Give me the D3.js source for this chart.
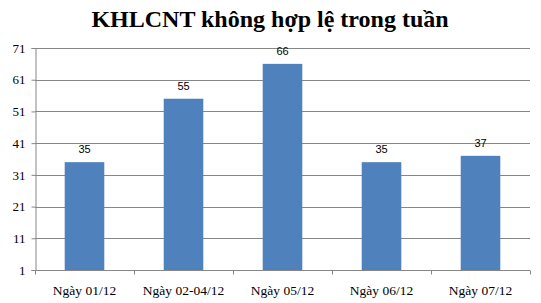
<!DOCTYPE html>
<html>
<head>
<meta charset="utf-8">
<script src="https://cdn.jsdelivr.net/npm/d3@7"></script>
<style>
  body { margin: 0; background: #fff; }
  svg { display: block; }
</style>
</head>
<body>
<script>
var title = 'KHLCNT không hợp lệ trong tuần'
var categories = ['Ngày 01/12', 'Ngày 02-04/12', 'Ngày 05/12', 'Ngày 06/12', 'Ngày 07/12']
var values = [35, 55, 66, 35, 37]
var yTicks = [1, 11, 21, 31, 41, 51, 61, 71]

var width = 541, height = 303
var margin = {top: 48, right: 11, bottom: 33, left: 35}

var svg = d3.select('body').append('svg')
  .attr('width', width)
  .attr('height', height);

var x = d3.scaleBand()
  .domain(categories)
  .range([margin.left, width - margin.right])
  .paddingInner(0.6)
  .paddingOuter(0.3);

var y = d3.scaleLinear()
  .domain([1, 71])
  .range([height - margin.bottom, margin.top]);

// title
svg.append('text')
  .attr('x', 270)
  .attr('y', 27)
  .attr('text-anchor', 'middle')
  .style('font-family', '"Liberation Serif", "Times New Roman", serif')
  .style('font-weight', 'bold')
  .style('font-size', '24px')
  .text(title);

// gridlines
svg.append('g')
  .selectAll('line')
  .data(yTicks.slice(1))
  .enter().append('line')
    .attr('x1', margin.left)
    .attr('x2', width - margin.right)
    .attr('y1', d => Math.round(y(d)) + 0.5)
    .attr('y2', d => Math.round(y(d)) + 0.5)
    .attr('stroke', '#868686');

// y axis
var yAxis = svg.append('g')
  .attr('transform', 'translate(' + (margin.left + 0.5) + ',0)')
  .call(d3.axisLeft(y).tickValues(yTicks).tickSize(4).tickPadding(6));
yAxis.select('.domain').attr('stroke', '#868686');
yAxis.selectAll('.tick line').attr('stroke', '#868686');
yAxis.selectAll('.tick text')
  .style('font-family', '"Liberation Serif", "Times New Roman", serif')
  .style('font-size', '13px')
  .attr('fill', '#000');

// bars
svg.append('g')
  .selectAll('rect')
  .data(values)
  .enter().append('rect')
    .attr('x', (d, i) => x(categories[i]))
    .attr('y', d => y(d))
    .attr('width', x.bandwidth())
    .attr('height', d => y(1) - y(d))
    .attr('fill', '#4F81BD');

// value labels
svg.append('g')
  .selectAll('text')
  .data(values)
  .enter().append('text')
    .attr('x', (d, i) => x(categories[i]) + x.bandwidth() / 2)
    .attr('y', d => y(d) - 9)
    .attr('text-anchor', 'middle')
    .style('font-family', '"Liberation Sans", Arial, sans-serif')
    .style('font-size', '11px')
    .text(d => d);

// x axis
var xBoundaries = d3.scaleLinear()
  .domain([0, categories.length])
  .range([margin.left, width - margin.right]);
var xAxis = svg.append('g')
  .attr('transform', 'translate(0,' + (Math.round(y(1)) + 0.5) + ')');
xAxis.append('line')
  .attr('x1', margin.left)
  .attr('x2', width - margin.right)
  .attr('stroke', '#868686');
xAxis.selectAll('.bound')
  .data(d3.range(categories.length + 1))
  .enter().append('line')
    .attr('class', 'bound')
    .attr('x1', d => Math.round(xBoundaries(d)) + 0.5)
    .attr('x2', d => Math.round(xBoundaries(d)) + 0.5)
    .attr('y1', 0)
    .attr('y2', 4)
    .attr('stroke', '#868686');
xAxis.selectAll('.label')
  .data(categories)
  .enter().append('text')
    .attr('class', 'label')
    .attr('x', d => x(d) + x.bandwidth() / 2)
    .attr('y', 24)
    .attr('text-anchor', 'middle')
    .style('font-family', '"Liberation Serif", "Times New Roman", serif')
    .style('font-size', '13.5px')
    .text(d => d);
</script>
</body>
</html>
